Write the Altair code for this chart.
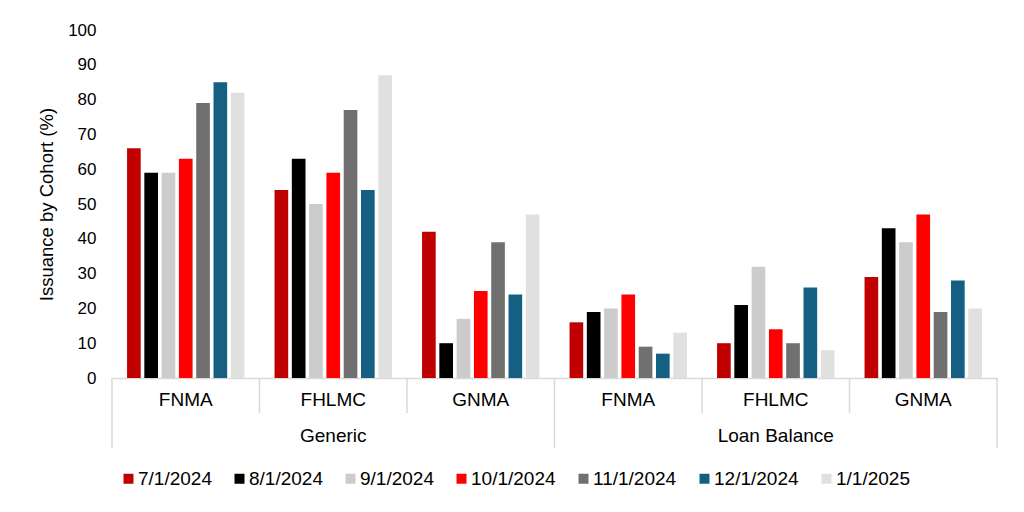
import altair as alt
import pandas as pd

groups = ["Generic", "Generic", "Generic", "Loan Balance", "Loan Balance", "Loan Balance"]
issuers = ["FNMA", "FHLMC", "GNMA", "FNMA", "FHLMC", "GNMA"]
dates = ["7/1/2024", "8/1/2024", "9/1/2024", "10/1/2024", "11/1/2024", "12/1/2024", "1/1/2025"]
colors = ["#C00000", "#000000", "#CCCCCC", "#FF0000", "#707070", "#156082", "#E0E0E0"]

v_2024_07 = [66, 54, 42, 16, 10, 29]
v_2024_08 = [59, 63, 10, 19, 21, 43]
v_2024_09 = [59, 50, 17, 20, 32, 39]
v_2024_10 = [63, 59, 25, 24, 14, 47]
v_2024_11 = [79, 77, 39, 9, 10, 19]
v_2024_12 = [85, 54, 24, 7, 26, 28]
v_2025_01 = [82, 87, 47, 13, 8, 20]
series = [v_2024_07, v_2024_08, v_2024_09, v_2024_10, v_2024_11, v_2024_12, v_2025_01]

y_ticks = list(range(0, 101, 10))

cats = [f"{g}|{i}" for g, i in zip(groups, issuers)]

rows = []
for d, vals in zip(dates, series):
    for c, v in zip(cats, vals):
        rows.append({"cat": c, "date": d, "value": v})
df = pd.DataFrame(rows)

FONT = "Liberation Sans"
GRID = "#D9D9D9"

xscale = alt.Scale(domain=cats, paddingInner=0, paddingOuter=0)

bars = alt.Chart(df).mark_bar().encode(
    x=alt.X("cat:N", scale=xscale,
            axis=alt.Axis(title=None, labelExpr="split(datum.label, '|')[1]", ticks=False,
                          domainColor=GRID, domainWidth=1.5, labelAngle=0, labelFontSize=19,
                          labelColor="#000000", labelPadding=12, labelFont=FONT)),
    xOffset=alt.XOffset("date:N", sort=dates,
                        scale=alt.Scale(domain=dates, paddingInner=0.21, paddingOuter=0.87)),
    y=alt.Y("value:Q", scale=alt.Scale(domain=[0, 100]),
            axis=alt.Axis(values=y_ticks, title="Issuance by Cohort (%)", grid=False, domain=False,
                          ticks=False, labelFontSize=17, labelPadding=16, labelColor="#000000",
                          titleFontSize=18.5, titleFontWeight="normal", titleColor="#000000",
                          titlePadding=11, labelFont=FONT, titleFont=FONT)),
    color=alt.Color("date:N", sort=dates,
                    scale=alt.Scale(domain=dates, range=colors),
                    legend=alt.Legend(orient="none", legendX=7, legendY=439, direction="horizontal",
                                      columns=7, symbolType="square", symbolSize=100,
                                      labelFontSize=19, labelOffset=0, columnPadding=18,
                                      title=None, padding=0, symbolStrokeWidth=0,
                                      labelColor="#000000", labelFont=FONT)),
)

short_df = pd.DataFrame({"cat": [cats[1], cats[2], cats[4], cats[5]]})
long_df = pd.DataFrame({"cat": [cats[0], cats[3]]})
end_df = pd.DataFrame({"cat": [cats[5]]})

short_rules = alt.Chart(short_df).mark_rule(color=GRID, strokeWidth=1.5).encode(
    x=alt.X("cat:N", scale=xscale, bandPosition=0),
    y=alt.value(348), y2=alt.value(383),
)
long_rules = alt.Chart(long_df).mark_rule(color=GRID, strokeWidth=1.5).encode(
    x=alt.X("cat:N", scale=xscale, bandPosition=0),
    y=alt.value(348), y2=alt.value(418),
)
end_rule = alt.Chart(end_df).mark_rule(color=GRID, strokeWidth=1.5).encode(
    x=alt.X("cat:N", scale=xscale, bandPosition=1),
    y=alt.value(348), y2=alt.value(418),
)

grp_df = pd.DataFrame({"cat": [cats[1], cats[4]], "label": ["Generic", "Loan Balance"]})
grp_text = alt.Chart(grp_df).mark_text(fontSize=19, font=FONT, color="#000000", baseline="middle").encode(
    x=alt.X("cat:N", scale=xscale),
    y=alt.value(406),
    text="label:N",
)

chart = alt.layer(bars, short_rules, long_rules, end_rule, grp_text).properties(
    width=885, height=348,
    autosize=alt.AutoSizeParams(type="none"),
    padding={"left": 104, "top": 22, "right": 19, "bottom": 126},
).configure(font=FONT).configure_view(stroke=None)

chart.save("out.html", embed_options={"renderer": "svg", "actions": False})
